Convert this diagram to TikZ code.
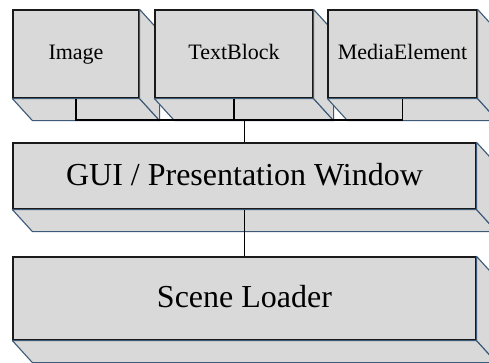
\documentclass[tikz,border=0pt]{standalone}
\usepackage{fontspec}
\setmainfont{Liberation Serif}
\usetikzlibrary{calc}
\definecolor{boxfill}{HTML}{D9D9D9}
\definecolor{edgedark}{HTML}{1A1A1A}
\definecolor{edgeblue}{HTML}{3D5A78}
\tikzset{
  front/.style={draw=edgedark, line width=1.2pt, fill=boxfill, inner sep=0pt, anchor=center},
  smalllbl/.style={font=\fontsize{22}{25}\selectfont, text height=15.5pt, text depth=5.5pt},
  biglbl/.style={font=\fontsize{32}{36}\selectfont, text height=26pt, text depth=8pt},
  face/.style={draw=edgeblue, line width=1.1pt, fill=boxfill, line join=round},
  conn/.style={draw=black, line width=1.3pt}
}
\newcommand{\extrude}[1]{%
  \draw[face] (#1.south west) -- ++(20,22) -- ($(#1.south east)+(20,22)$) -- (#1.south east) -- cycle;
  \draw[face] (#1.north east) -- ++(20,22) -- ($(#1.south east)+(20,22)$) -- (#1.south east) -- cycle;
}
\begin{document}
\begin{tikzpicture}[x=1pt,y=-1pt]
\useasboundingbox (0,0) rectangle (489,362);
\fill[white] (0,0) rectangle (489,362);
\clip (0,0) rectangle (489,362);
% top row
\node[front, smalllbl, minimum width=126pt, minimum height=88pt] (img) at (76,54) {Image};
\extrude{img}
\node[front, smalllbl, minimum width=158pt, minimum height=88pt] (tb) at (234,54) {TextBlock};
\extrude{tb}
\node[front, smalllbl, minimum width=149pt, minimum height=88pt] (me) at (402.5,54) {MediaElement};
\extrude{me}
% GUI
\node[front, biglbl, minimum width=463pt, minimum height=66pt] (gui) at (244.5,176) {GUI / Presentation Window};
\extrude{gui}
% Scene loader
\node[front, biglbl, minimum width=463pt, minimum height=83pt] (sl) at (244.5,298.5) {Scene Loader};
\extrude{sl}
% connectors
\coordinate (bus) at (244.5,120);
\draw[conn] (img.south) -- (img.south |- bus) -- (me.south |- bus) -- (me.south);
\draw[conn] (tb.south) -- (tb.south |- bus);
\draw[conn] (gui.north |- bus) -- (gui.north);
\draw[conn] (gui.south) -- (sl.north);
\end{tikzpicture}
\end{document}
